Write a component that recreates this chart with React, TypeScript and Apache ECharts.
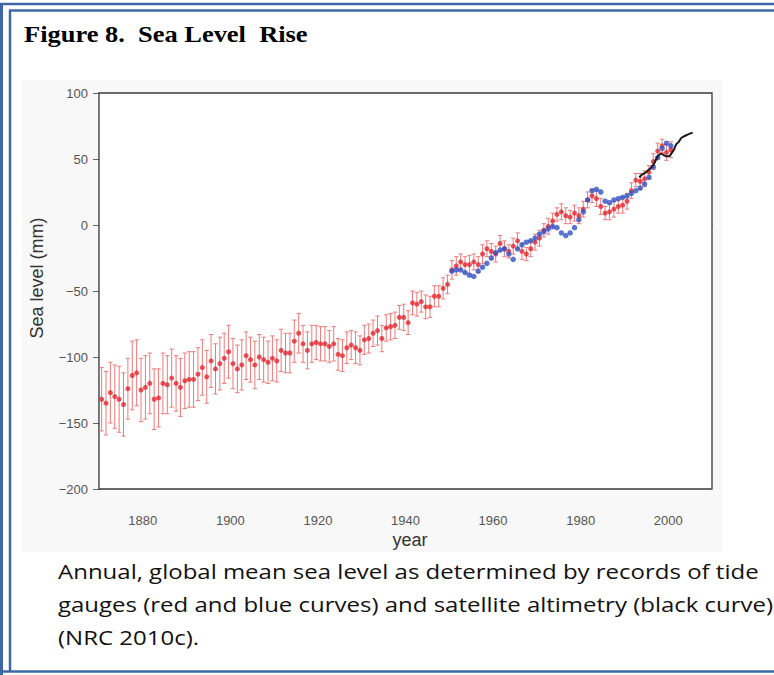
import React, { useEffect, useRef } from "react";
import * as echarts from "echarts";

const titleText = "Figure 8.  Sea Level  Rise";
const captionLines = [
  "Annual, global mean sea level as determined by records of tide",
  "gauges (red and blue curves) and satellite altimetry (black curve)",
  "(NRC 2010c).",
];
const yAxisTitle = "Sea level (mm)";
const xAxisTitle = "year";
const xTicks = [1880, 1900, 1920, 1940, 1960, 1980, 2000];

const redStartYear = 1870;
const redValues = [
  -132, -135, -127, -130, -132, -136, -124, -114, -112, -125,
  -123, -120, -132, -131, -120, -121, -116, -120, -123, -118,
  -117, -117, -113, -108, -115, -103, -109, -105, -101, -96,
  -105, -109, -106, -99, -102, -106, -100, -102, -104, -101,
  -103, -95, -97, -97, -88, -82, -90, -95, -90, -89,
  -90, -90, -92, -90, -98, -99, -93, -91, -93, -95,
  -87, -86, -82, -80, -86, -78, -77, -76, -70, -70,
  -74, -59, -60, -58, -62, -62, -54, -54, -48, -45,
  -34, -31, -28, -30, -30, -28, -30, -22, -18, -20,
  -22, -14, -18, -20, -16, -12, -20, -22, -18, -13,
  -10, -4, -1, 3, 8, 10, 7, 6, 9, 7,
  12, 19, 22, 20, 14, 9, 10, 12, 14, 15,
  18, 26, 34, 33, 35, 40, 48, 56, 60, 55,
  57,
];
const redErrors = [
  24, 24, 23, 24, 25, 24, 23, 26, 25, 24,
  24, 23, 23, 22, 23, 22, 22, 21, 22, 21,
  21, 21, 20, 21, 20, 20, 19, 20, 19, 20,
  19, 18, 19, 18, 17, 18, 17, 17, 16, 17,
  16, 16, 15, 15, 16, 15, 14, 14, 14, 13,
  13, 13, 12, 13, 12, 12, 12, 11, 12, 11,
  11, 11, 10, 11, 10, 10, 10, 10, 9, 10,
  9, 9, 9, 8, 9, 8, 8, 8, 8, 7,
  7, 7, 6, 6, 7, 6, 6, 7, 6, 6,
  6, 6, 6, 5, 6, 6, 6, 5, 6, 6,
  6, 5, 6, 6, 5, 6, 6, 5, 6, 6,
  6, 6, 5, 6, 6, 5, 6, 6, 5, 6,
  6, 6, 5, 6, 6, 5, 6, 6, 5, 6,
  6,
];

const blueStartYear = 1950;
const blueValues = [
  -35, -34, -34, -36, -38, -39, -35, -32, -29, -25,
  -21, -19, -18, -22, -26, -18, -15, -13, -12, -10,
  -7, -5, -3, -1, -2, -6, -8, -6, -2, 4,
  10, 19, 26, 27, 25, 18, 17, 19, 20, 21,
  22, 24, 26, 28, 31, 36, 44, 51, 58, 62,
  60,
];

const blackYears = [
  1993.4, 1994, 1994.9, 1995.6, 1996.5, 1997, 1997.6, 1998.4, 1999, 1999.5,
  2000.1, 2000.7, 2001.3, 2001.8, 2002.4, 2003, 2003.5, 2004.1, 2004.8, 2005.6,
];
const blackValues = [
  36, 38, 40, 42, 45, 48, 52, 54, 53, 52,
  52, 54, 57, 61, 63, 66, 67, 68, 69, 70,
];

const MID = 0.6; // annual means plotted mid-year

export default function App() {
  const ref = useRef<HTMLDivElement>(null);
  useEffect(() => {
    if (!ref.current) return;
    const chart = echarts.init(ref.current, null, { renderer: "svg" });

    const redPts = redValues.map((v, i) => [redStartYear + i + MID, v]);
    const redBars = redValues.map((v, i) => [
      redStartYear + i + MID,
      v - redErrors[i],
      v + redErrors[i],
    ]);
    const bluePts = blueValues.map((v, i) => [blueStartYear + i + MID, v]);
    const blackPts = blackYears.map((y, i) => [y, blackValues[i]]);

    const axisColor = "#3a3a3a";
    const labelColor = "#555";
    const blue = "#3d67a6";

    chart.setOption({
      animation: false,
      backgroundColor: "#ffffff",
      grid: {
        left: 99,
        top: 93,
        right: 62,
        bottom: 186,
        show: true,
        borderColor: axisColor,
        borderWidth: 1.3,
        backgroundColor: "#ffffff",
        z: 1,
      },
      xAxis: {
        type: "value",
        min: 1870,
        max: 2010,
        splitLine: { show: false },
        axisLine: { show: true, lineStyle: { color: axisColor, width: 1.3 } },
        axisTick: {
          show: true,
          length: 6,
          customValues: xTicks,
          lineStyle: { color: "#666", width: 1 },
        },
        axisLabel: {
          customValues: xTicks,
          margin: 25,
          color: labelColor,
          fontFamily: "Liberation Sans",
          fontSize: 13,
          formatter: (v: number) => String(v),
        },
      },
      yAxis: {
        type: "value",
        min: -200,
        max: 100,
        interval: 50,
        splitLine: { show: false },
        axisLine: { show: true, lineStyle: { color: axisColor, width: 1.3 } },
        axisTick: { show: true, length: 6, lineStyle: { color: "#666", width: 1 } },
        axisLabel: {
          margin: 11,
          color: labelColor,
          fontFamily: "Liberation Sans",
          fontSize: 13,
          formatter: (v: number) => (v < 0 ? "\u2212" + Math.abs(v) : String(v)),
        },
      },
      graphic: [
        {
          type: "rect",
          z: -10,
          silent: true,
          shape: { x: 22, y: 80, width: 700, height: 472 },
          style: { fill: "#f8f8f8" },
        },
        {
          type: "line",
          shape: { x1: 1.5, y1: 3, x2: 1.5, y2: 675 },
          style: { stroke: blue, lineWidth: 3 },
        },
        {
          type: "line",
          shape: { x1: 0, y1: 4, x2: 774, y2: 4 },
          style: { stroke: blue, lineWidth: 2.5 },
        },
        {
          type: "line",
          shape: { x1: 10, y1: 10, x2: 10, y2: 671 },
          style: { stroke: blue, lineWidth: 2.5 },
        },
        {
          type: "line",
          shape: { x1: 9, y1: 10.5, x2: 774, y2: 10.5 },
          style: { stroke: blue, lineWidth: 2.5 },
        },
        {
          type: "line",
          shape: { x1: 0, y1: 671.5, x2: 774, y2: 671.5 },
          style: { stroke: blue, lineWidth: 2.5 },
        },
        {
          type: "text",
          x: 24,
          y: 23,
          scaleX: 1.15,
          style: {
            text: titleText,
            font: "bold 23px 'Liberation Serif'",
            fill: "#000",
          },
        },
        {
          type: "text",
          x: 410,
          y: 540,
          style: {
            text: xAxisTitle,
            font: "18px 'Liberation Sans'",
            fill: "#333",
            align: "center",
            verticalAlign: "middle",
          },
        },
        {
          type: "text",
          x: 37,
          y: 278,
          rotation: Math.PI / 2,
          style: {
            text: yAxisTitle,
            font: "18px 'Liberation Sans'",
            fill: "#333",
            align: "center",
            verticalAlign: "middle",
          },
        },
        ...captionLines.map((t, i) => ({
          type: "text",
          x: 58,
          y: 561 + i * 33,
          scaleX: 1.2,
          style: {
            text: t,
            font: "20px 'Open Sans'",
            fill: "#111",
          },
        })),
      ],
      series: [
        {
          type: "custom",
          name: "red error",
          z: 2,
          renderItem: (params: any, api: any) => {
            const x = api.value(0);
            const lo = api.coord([x, api.value(1)]);
            const hi = api.coord([x, api.value(2)]);
            const cap = 2.2;
            const style = { stroke: "#ec7a7a", lineWidth: 1 };
            return {
              type: "group",
              children: [
                { type: "line", shape: { x1: lo[0], y1: lo[1], x2: hi[0], y2: hi[1] }, style },
                { type: "line", shape: { x1: lo[0] - cap, y1: lo[1], x2: lo[0] + cap, y2: lo[1] }, style },
                { type: "line", shape: { x1: hi[0] - cap, y1: hi[1], x2: hi[0] + cap, y2: hi[1] }, style },
              ],
            };
          },
          data: redBars,
        },
        {
          type: "scatter",
          name: "tide gauges (red)",
          z: 3,
          symbol: "circle",
          symbolSize: 5,
          itemStyle: { color: "#e3262e" },
          data: redPts,
        },
        {
          type: "scatter",
          name: "tide gauges (blue)",
          z: 4,
          symbol: "circle",
          symbolSize: 5.5,
          itemStyle: { color: "#2f52c4" },
          data: bluePts,
        },
        {
          type: "line",
          name: "satellite altimetry",
          z: 5,
          showSymbol: false,
          smooth: 0.3,
          lineStyle: { color: "#1a1a1a", width: 2 },
          data: blackPts,
        },
      ],
    });
    return () => chart.dispose();
  }, []);

  return (
    <div
      ref={ref}
      style={{ position: "fixed", left: 0, top: 0, width: 774, height: 675 }}
    />
  );
}
